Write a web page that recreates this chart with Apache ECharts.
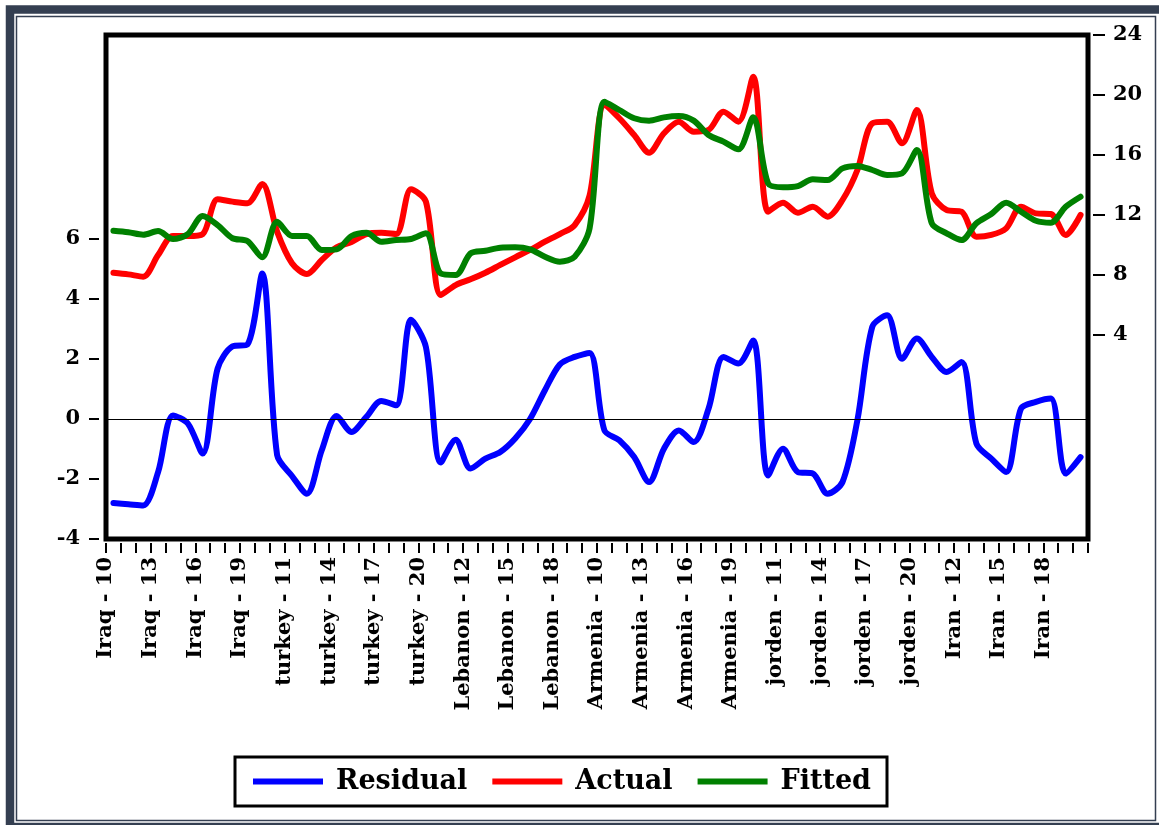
<!DOCTYPE html>
<html><head><meta charset="utf-8">
<script src="https://cdn.jsdelivr.net/npm/echarts@6/dist/echarts.min.js"></script>
<style>html,body{margin:0;padding:0;background:#fff}#c{width:1159px;height:825px}</style>
</head><body><div id="c"></div>
<script>
const countries = ['Iraq', 'turkey', 'Lebanon', 'Armenia', 'jorden', 'Iran'];
const years = [10, 11, 12, 13, 14, 15, 16, 17, 18, 19, 20];

const residual = [
  -2.80, -2.84, -2.88, -1.77, 0.12, -0.15, -1.15, 1.68, 2.42, 2.48, 4.85,
  -1.20, -1.90, -2.49, -1.04, 0.10, -0.43, 0.07, 0.60, 0.46, 3.31, 2.40,
  -1.45, -0.69, -1.65, -1.32, -1.10, -0.65, 0.00, 0.96, 1.82, 2.07, 2.20,
  -0.38, -0.71, -1.27, -2.10, -0.99, -0.38, -0.77, 0.35, 2.07, 1.85, 2.62,
  -1.88, -0.99, -1.77, -1.82, -2.49, -2.10, -0.04, 3.07, 3.46, 2.01, 2.68,
  2.07, 1.57, 1.90, -0.82, -1.32, -1.77, 0.35, 0.57, 0.68, -1.82, -1.27
];
const actual = [
  8.15, 8.04, 7.89, 9.33, 10.60, 10.60, 10.73, 13.05, 12.89, 12.78, 14.07,
  10.89, 8.78, 8.07, 9.00, 9.85, 10.20, 10.73, 10.82, 10.73, 13.71, 12.89,
  6.67, 7.33, 7.71, 8.15, 8.67, 9.18, 9.67, 10.22, 10.73, 11.33, 13.30,
  19.33, 18.45, 17.33, 16.15, 17.45, 18.22, 17.55, 17.67, 18.89, 18.22, 21.22,
  12.22, 12.82, 12.15, 12.55, 11.89, 13.00, 15.00, 18.11, 18.22, 16.78, 19.00,
  13.45, 12.33, 12.22, 10.55, 10.67, 11.11, 12.55, 12.11, 12.07, 10.67, 12.00
];
const fitted = [
  10.95, 10.85, 10.69, 10.93, 10.40, 10.73, 11.93, 11.33, 10.45, 10.27, 9.18,
  11.55, 10.60, 10.60, 9.67, 9.71, 10.60, 10.82, 10.22, 10.33, 10.40, 10.78,
  8.10, 8.00, 9.44, 9.62, 9.82, 9.85, 9.71, 9.22, 8.89, 9.22, 11.10,
  19.55, 19.00, 18.45, 18.29, 18.51, 18.60, 18.29, 17.33, 16.89, 16.38, 18.51,
  14.11, 13.85, 13.93, 14.38, 14.33, 15.11, 15.27, 15.00, 14.67, 14.78, 16.33,
  11.45, 10.78, 10.33, 11.45, 12.07, 12.82, 12.22, 11.62, 11.49, 12.55, 13.22
];
const leftTicks = [-4, -2, 0, 2, 4, 6];
const rightTicks = [4, 8, 12, 16, 20, 24];

const categories = [];
countries.forEach(c => years.forEach(y => categories.push(c + ' - ' + y)));

const font = { fontFamily: 'DejaVu Serif', fontWeight: 'bold', fontSize: 21, color: '#000' };
const tickStyle = { color: '#000', width: 2 };

const chart = echarts.init(document.getElementById('c'), null, { renderer: 'canvas' });
chart.setOption({
  animation: false,
  backgroundColor: '#fff',
  grid: { left: 106, right: 71, top: 35, bottom: 286, show: true, borderColor: '#000', borderWidth: 5, backgroundColor: 'transparent' },
  legend: {
    left: 235, top: 757,
    data: ['Residual', 'Actual', 'Fitted'],
    icon: 'rect', itemWidth: 70, itemHeight: 6, itemGap: 25,
    borderColor: '#000', borderWidth: 3,
    padding: [11, 16, 11, 18],
    textStyle: { fontFamily: 'DejaVu Serif', fontWeight: 'bold', fontSize: 27, color: '#000', padding: [0, 0, 0, 8] }
  },
  xAxis: [
    { type: 'category', data: categories, boundaryGap: true, show: false },
    {
      type: 'category', data: categories.concat(['']), boundaryGap: false, position: 'bottom', offset: 4,
      axisLine: { show: false, onZero: false },
      axisTick: { show: true, interval: 0, length: 10, lineStyle: tickStyle },
      axisLabel: Object.assign({ interval: 2, rotate: 90, margin: 14 }, font),
      splitLine: { show: false }
    }
  ],
  yAxis: [
    {
      type: 'value', position: 'left', min: -4, max: 12.8, offset: 7,
      axisLine: { show: false, onZero: false }, splitLine: { show: false },
      axisTick: { show: true, length: 10, customValues: leftTicks, lineStyle: tickStyle },
      axisLabel: Object.assign({ customValues: leftTicks, margin: 19 }, font)
    },
    {
      type: 'value', position: 'right', min: -9.6, max: 24, offset: 5,
      axisLine: { show: false, onZero: false }, splitLine: { show: false },
      axisTick: { show: true, length: 12, customValues: rightTicks, lineStyle: tickStyle },
      axisLabel: Object.assign({ customValues: rightTicks, margin: 20 }, font)
    }
  ],
  graphic: [
    { type: 'rect', silent: true, shape: { x: 10, y: 9.5, width: 1153.5, height: 817.5 }, style: { fill: 'none', stroke: '#343f51', lineWidth: 8.5 } },
    { type: 'rect', silent: true, shape: { x: 16.5, y: 16.5, width: 1139, height: 804 }, style: { fill: 'none', stroke: '#343f51', lineWidth: 1.5 } }
  ],
  series: [
    {
      name: 'Residual', type: 'line', xAxisIndex: 0, yAxisIndex: 0, data: residual,
      showSymbol: false, smooth: 0.3, lineStyle: { color: '#0000ff', width: 6, join: 'round', cap: 'round' }, itemStyle: { color: '#0000ff' },
      markLine: { silent: true, symbol: 'none', label: { show: false }, lineStyle: { color: '#000', width: 1, type: 'solid' }, data: [{ yAxis: 0 }] }
    },
    {
      name: 'Actual', type: 'line', xAxisIndex: 0, yAxisIndex: 1, data: actual,
      showSymbol: false, smooth: 0.3, lineStyle: { color: '#ff0000', width: 6, join: 'round', cap: 'round' }, itemStyle: { color: '#ff0000' }
    },
    {
      name: 'Fitted', type: 'line', xAxisIndex: 0, yAxisIndex: 1, data: fitted,
      showSymbol: false, smooth: 0.3, lineStyle: { color: '#008000', width: 6, join: 'round', cap: 'round' }, itemStyle: { color: '#008000' }
    }
  ]
});
</script>
</body></html>
